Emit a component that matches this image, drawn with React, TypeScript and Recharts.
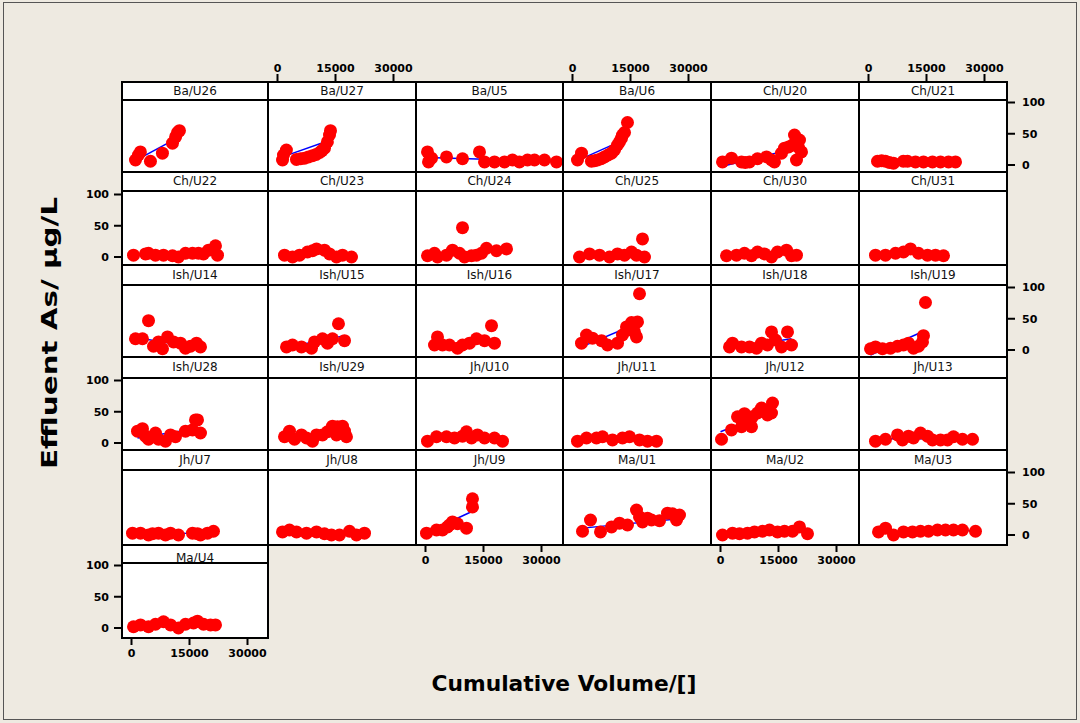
import React from "react";
import { ScatterChart, Scatter, XAxis, YAxis } from "recharts";

// Cumulative volume vs effluent As, one array per unit: [volume, As]
const baU26 = [[1030, 8], [1800, 16], [2300, 21], [4900, 6], [8000, 19], [10600, 35], [11400, 45], [11900, 52], [12400, 55]];
const baU27 = [[1300, 8], [1550, 16], [2300, 24], [4900, 9], [6000, 10], [7000, 11], [8000, 13], [9050, 15], [10000, 17], [10900, 20], [11500, 23], [12150, 27], [12900, 37], [13450, 48], [13700, 55]];
const baU5 = [[520, 21], [780, 5], [1550, 11], [5430, 13], [9570, 10], [13960, 21], [15260, 5], [17840, 5], [20430, 5], [22500, 8], [24300, 5], [26380, 8], [28190, 8], [30770, 8], [33880, 5]];
const baU6 = [[1290, 8], [2330, 19], [4900, 6], [5700, 7], [6470, 8], [7400, 10], [8280, 13], [9200, 16], [10090, 19], [10860, 24], [11640, 32], [12150, 37], [12670, 43], [12930, 48], [13450, 52], [14220, 68]];
const chU20 = [[520, 5], [2840, 11], [5430, 5], [6400, 4], [7500, 5], [9570, 10], [11900, 13], [13200, 8], [13960, 5], [15770, 19], [16550, 27], [17600, 29], [18620, 32], [19140, 48], [19650, 8], [20200, 28], [20430, 40], [20950, 21]];
const chU21 = [[2330, 6], [3400, 7], [4400, 6], [5400, 4], [6470, 3], [9000, 6], [10090, 6], [12150, 5], [14220, 5], [16550, 5], [18620, 5], [20690, 5], [22500, 5]];
const chU22 = [[520, 3], [3620, 5], [4400, 6], [6200, 3], [8280, 3], [10600, 2], [12150, 0], [13960, 6], [15770, 6], [17330, 6], [18620, 5], [19910, 11], [21720, 18], [22240, 3]];
const chU23 = [[1810, 3], [3880, 0], [5690, 3], [7760, 8], [9050, 10], [10090, 13], [12150, 11], [13450, 5], [15260, 0], [16810, 3], [19140, 0]];
const chU24 = [[520, 2], [2330, 6], [3100, 0], [5430, 3], [6980, 11], [8790, 6], [9570, 47], [10090, 0], [11900, 2], [13190, 3], [14480, 6], [15770, 14], [18360, 10], [20950, 13]];
const chU25 = [[1810, 0], [4400, 5], [6980, 3], [9570, 0], [11640, 5], [13450, 3], [15260, 8], [16550, 3], [18100, 29], [18620, 0]];
const chU30 = [[1550, 2], [4140, 3], [6200, 6], [8020, 2], [9570, 8], [11380, 5], [13190, 0], [14740, 8], [17070, 11], [18360, 2], [19650, 3]];
const chU31 = [[1810, 3], [4400, 3], [6980, 6], [9050, 8], [10860, 13], [12930, 6], [15260, 3], [17330, 3], [19400, 2]];
const ishU14 = [[1030, 18], [2840, 18], [4400, 47], [5690, 6], [6980, 13], [8020, 2], [9310, 21], [10860, 13], [12670, 11], [13960, 3], [15260, 6], [16810, 11], [17840, 5]];
const ishU15 = [[2330, 5], [3880, 8], [6200, 5], [8790, 3], [9570, 13], [11640, 18], [12930, 11], [14220, 18], [15770, 42], [17330, 15]];
const ishU16 = [[2330, 8], [3100, 21], [4400, 8], [6200, 8], [8280, 3], [9570, 8], [11380, 11], [13190, 18], [15260, 15], [17070, 39], [17840, 11]];
const ishU17 = [[2330, 11], [3620, 24], [5170, 19], [7500, 15], [9050, 8], [11640, 11], [12930, 24], [13960, 37], [14220, 32], [15260, 44], [16030, 29], [16550, 21], [16810, 45], [17330, 90]];
const ishU18 = [[2330, 5], [3100, 11], [5430, 5], [7500, 5], [9310, 3], [10600, 11], [12150, 8], [13190, 29], [14220, 16], [15770, 5], [17330, 29], [18360, 8]];
const ishU19 = [[520, 2], [1810, 5], [3620, 2], [5690, 3], [7500, 6], [9050, 8], [10340, 11], [11640, 3], [12930, 6], [13960, 13], [14220, 23], [14740, 76]];
const ishU28 = [[1550, 19], [2840, 23], [3620, 11], [4400, 6], [6200, 16], [6980, 6], [8790, 3], [10090, 13], [11380, 10], [13960, 19], [15770, 21], [16550, 37], [17070, 37], [17840, 16]];
const ishU29 = [[1810, 10], [3100, 19], [4400, 6], [6200, 13], [7500, 8], [9050, 3], [10090, 13], [11640, 13], [12930, 18], [14220, 27], [15260, 13], [15520, 26], [16810, 27], [17330, 19], [17840, 10]];
const jhU10 = [[520, 3], [2840, 10], [5430, 10], [7500, 8], [9570, 11], [10600, 18], [11900, 8], [13450, 13], [15260, 8], [17840, 8], [19910, 3]];
const jhU11 = [[1290, 3], [3620, 8], [6200, 8], [7760, 10], [10340, 5], [12930, 8], [14740, 10], [17330, 5], [19400, 3], [21720, 3]];
const jhU12 = [[260, 6], [2840, 21], [4400, 42], [5430, 26], [5690, 34], [6200, 47], [8020, 26], [8280, 42], [9570, 48], [10600, 56], [11380, 53], [12150, 45], [13190, 48], [13450, 64]];
const jhU13 = [[1810, 3], [4400, 6], [7500, 13], [8790, 5], [10340, 11], [11640, 8], [13450, 16], [15260, 11], [16550, 5], [18620, 5], [20430, 5], [21980, 10], [24300, 6], [26900, 6]];
const jhU7 = [[260, 3], [2330, 3], [4400, 0], [5430, 2], [6980, 3], [8790, 0], [10090, 3], [12150, 0], [15770, 3], [17070, 2], [17840, 0], [19650, 3], [21200, 6]];
const jhU8 = [[1290, 5], [3100, 8], [4910, 5], [7500, 3], [10090, 5], [12150, 2], [13960, 0], [16030, 0], [18620, 6], [20430, 0], [22500, 3]];
const jhU9 = [[260, 3], [2840, 8], [4400, 8], [5690, 13], [6200, 16], [6980, 21], [8280, 18], [10600, 11], [12150, 45], [12150, 58]];
const maU1 = [[2590, 6], [4650, 24], [7240, 5], [10090, 13], [12150, 19], [14220, 16], [16550, 40], [17330, 29], [18100, 21], [19400, 27], [20430, 24], [22500, 23], [24570, 35], [25860, 34], [26900, 24], [27670, 32]];
const maU2 = [[520, 0], [3100, 3], [4910, 2], [6980, 3], [8790, 5], [10860, 6], [12670, 8], [14740, 5], [16550, 6], [18620, 6], [20430, 13], [22500, 2]];
const maU3 = [[2590, 5], [4400, 11], [6470, 0], [9050, 5], [11380, 5], [13450, 6], [15520, 6], [17840, 8], [19910, 8], [21980, 8], [24300, 8], [27670, 6]];
const maU4 = [[520, 2], [2330, 5], [4400, 2], [6200, 6], [8280, 10], [10090, 5], [12150, 0], [13960, 6], [16030, 8], [17070, 11], [18620, 6], [20430, 5], [21720, 5]];

// fitted line ends: [x0, y0, x1, y1]
const baU26Fit = [1000, 7, 12400, 45];
const baU27Fit = [1300, 13, 13700, 40];
const baU5Fit = [520, 12, 33880, 6];
const baU6Fit = [1290, 7, 14220, 43];
const chU20Fit = [520, -2, 20950, 29];
const chU21Fit = [2330, 6, 22500, 4];
const chU22Fit = [520, 2, 22240, 9];
const chU23Fit = [1810, 6, 19140, 5];
const chU24Fit = [520, 3, 20950, 11];
const chU25Fit = [1810, 2, 18620, 8];
const chU30Fit = [1550, 2, 19650, 8];
const chU31Fit = [1810, 5, 19400, 5];
const ishU14Fit = [1030, 20, 17840, 3];
const ishU15Fit = [2330, 4, 17330, 23];
const ishU16Fit = [2330, 6, 17840, 14];
const ishU17Fit = [2330, 5, 17330, 44];
const ishU18Fit = [2330, 3, 18360, 18];
const ishU19Fit = [520, -8, 14220, 30];
const ishU28Fit = [1550, 8, 17840, 24];
const ishU29Fit = [1810, 8, 17840, 22];
const jhU10Fit = [520, 7, 19910, 9];
const jhU11Fit = [1290, 7, 21720, 5];
const jhU12Fit = [0, 18, 13450, 51];
const jhU13Fit = [1810, 7, 26900, 7];
const jhU7Fit = [260, 2, 21200, 3];
const jhU8Fit = [1290, 5, 22500, 1];
const jhU9Fit = [260, 4, 12150, 38];
const maU1Fit = [2590, 11, 27670, 26];
const maU2Fit = [520, 1, 22500, 8];
const maU3Fit = [2590, 5, 27670, 7];
const maU4Fit = [520, 3, 21720, 7];

const X_TICKS = [0, 15000, 30000];
const Y_TICKS = [0, 50, 100];
const BOTTOM_AXIS = ["Jh/U9", "Ma/U2", "Ma/U4"];

const panels = [
  { name: "Ba/U26", pts: baU26, fit: baU26Fit },
  { name: "Ba/U27", pts: baU27, fit: baU27Fit },
  { name: "Ba/U5", pts: baU5, fit: baU5Fit },
  { name: "Ba/U6", pts: baU6, fit: baU6Fit },
  { name: "Ch/U20", pts: chU20, fit: chU20Fit },
  { name: "Ch/U21", pts: chU21, fit: chU21Fit },
  { name: "Ch/U22", pts: chU22, fit: chU22Fit },
  { name: "Ch/U23", pts: chU23, fit: chU23Fit },
  { name: "Ch/U24", pts: chU24, fit: chU24Fit },
  { name: "Ch/U25", pts: chU25, fit: chU25Fit },
  { name: "Ch/U30", pts: chU30, fit: chU30Fit },
  { name: "Ch/U31", pts: chU31, fit: chU31Fit },
  { name: "Ish/U14", pts: ishU14, fit: ishU14Fit },
  { name: "Ish/U15", pts: ishU15, fit: ishU15Fit },
  { name: "Ish/U16", pts: ishU16, fit: ishU16Fit },
  { name: "Ish/U17", pts: ishU17, fit: ishU17Fit },
  { name: "Ish/U18", pts: ishU18, fit: ishU18Fit },
  { name: "Ish/U19", pts: ishU19, fit: ishU19Fit },
  { name: "Ish/U28", pts: ishU28, fit: ishU28Fit },
  { name: "Ish/U29", pts: ishU29, fit: ishU29Fit },
  { name: "Jh/U10", pts: jhU10, fit: jhU10Fit },
  { name: "Jh/U11", pts: jhU11, fit: jhU11Fit },
  { name: "Jh/U12", pts: jhU12, fit: jhU12Fit },
  { name: "Jh/U13", pts: jhU13, fit: jhU13Fit },
  { name: "Jh/U7", pts: jhU7, fit: jhU7Fit },
  { name: "Jh/U8", pts: jhU8, fit: jhU8Fit },
  { name: "Jh/U9", pts: jhU9, fit: jhU9Fit },
  { name: "Ma/U1", pts: maU1, fit: maU1Fit },
  { name: "Ma/U2", pts: maU2, fit: maU2Fit },
  { name: "Ma/U3", pts: maU3, fit: maU3Fit },
  { name: "Ma/U4", pts: maU4, fit: maU4Fit },
];

// layout of the trellis (pixels)
const COL_L = [122, 268, 416, 563, 711, 859, 1007];
const STRIP_T = [82, 172, 265, 357, 450, 545];
const PLOT_T = [100, 191, 285, 378, 470, 563];
const PLOT_B = [172, 265, 357, 450, 545, 638];
const ZERO_Y = [165, 257, 350, 443, 535, 628];
const PX_PER_X = 58 / 15000;
const PX_PER_Y = 62.5 / 100;
const X_ZERO_OFF = 9.5;
const PAD = 12;
const FONT = "'DejaVu Sans', sans-serif";
const BG = "#EEEAE1";

const tickStyle = { fill: "#000", fontSize: 11, fontWeight: 700, fontFamily: FONT };
const tickLine = { stroke: "#000", strokeWidth: 2 };
const noMargin = { top: 0, right: 0, bottom: 0, left: 0 };
const padMargin = { top: PAD, right: 0, bottom: PAD, left: 0 };

const Dot = (props: any) => <circle cx={props.cx} cy={props.cy} r={6.5} fill="#FF0000" />;
const NoDot = () => <g />;

function Panel({ def, idx }: { def: any; idx: number }) {
  const row = Math.floor(idx / 6);
  const col = idx % 6;
  const x0 = COL_L[col];
  const w = COL_L[col + 1] - x0;
  const st = STRIP_T[row];
  const pt = PLOT_T[row];
  const pb = PLOT_B[row];
  const zy = ZERO_Y[row];
  const h = pb - pt;
  const xDomain = [-X_ZERO_OFF / PX_PER_X, (w - X_ZERO_OFF) / PX_PER_X];
  const yDomain = [-(pb - zy) / PX_PER_Y, (zy - pt) / PX_PER_Y];
  const left = col === 0 && row % 2 === 1;
  const right = col === 5 && row % 2 === 0;
  const top = row === 0 && col % 2 === 1;
  const bottom = BOTTOM_AXIS.includes(def.name);
  const LW = 50;
  const BH = 30;
  const TH = 30;
  const pts = def.pts.map(([x, y]: number[]) => ({ x, y }));
  const fit = [
    { x: def.fit[0], y: def.fit[1] },
    { x: def.fit[2], y: def.fit[3] },
  ];

  return (
    <>
      <div style={{ position: "absolute", left: x0, top: st, width: w, height: pb - st, background: "#fff" }} />
      {top && (
        <div style={{ position: "absolute", left: x0, top: st - TH }}>
          <ScatterChart width={w} height={TH + pt - st} margin={noMargin}>
            <XAxis
              type="number"
              dataKey="x"
              domain={xDomain}
              ticks={X_TICKS}
              orientation="top"
              height={TH}
              tickSize={8}
              tickMargin={2}
              axisLine={false}
              tickLine={tickLine}
              tick={tickStyle}
              interval={0}
              allowDataOverflow
            />
            <YAxis type="number" dataKey="y" domain={[0, 1]} hide />
            <Scatter data={[]} isAnimationActive={false} />
          </ScatterChart>
        </div>
      )}
      <div
        style={{
          position: "absolute",
          left: x0,
          top: st,
          width: w,
          height: pt - st,
          lineHeight: `${pt - st}px`,
          textAlign: "center",
          fontFamily: FONT,
          fontSize: 12,
          color: "#111",
          paddingTop: def.name === "Ma/U4" ? 4 : 0,
          boxSizing: "border-box",
          whiteSpace: "nowrap",
        }}
      >
        {def.name}
      </div>
      <div style={{ position: "absolute", left: x0 - (left ? LW : 0), top: pt - PAD }}>
        <ScatterChart
          width={w + (left ? LW : 0) + (right ? LW : 0)}
          height={h + 2 * PAD + (bottom ? BH : 0)}
          margin={padMargin}
        >
          <XAxis
            type="number"
            dataKey="x"
            domain={xDomain}
            ticks={X_TICKS}
            hide={!bottom}
            orientation="bottom"
            height={BH}
            tickSize={7}
            tickMargin={4}
            axisLine={false}
            tickLine={tickLine}
            tick={tickStyle}
            interval={0}
            allowDataOverflow
          />
          <YAxis
            type="number"
            dataKey="y"
            domain={yDomain}
            ticks={Y_TICKS}
            hide={!(left || right)}
            orientation={right ? "right" : "left"}
            width={LW}
            tickSize={8}
            tickMargin={right ? 7 : 5}
            axisLine={false}
            tickLine={tickLine}
            tick={tickStyle}
            interval={0}
            allowDataOverflow
          />
          <Scatter
            data={fit}
            line={{ stroke: "#0000FF", strokeWidth: 1.5 }}
            shape={NoDot}
            isAnimationActive={false}
          />
          <Scatter data={pts} shape={Dot} isAnimationActive={false} />
        </ScatterChart>
      </div>
      <div
        style={{
          position: "absolute",
          left: x0 - 1,
          top: st - 1,
          width: w + 2,
          height: pb - st + 2,
          border: "2px solid #000",
          boxSizing: "border-box",
        }}
      />
      <div style={{ position: "absolute", left: x0, top: pt - 1, width: w, height: 2, background: "#000" }} />
    </>
  );
}

export default function App() {
  return (
    <div
      style={{
        position: "absolute",
        left: 0,
        top: 0,
        width: 1080,
        height: 723,
        background: BG,
        overflow: "hidden",
      }}
    >
      <div
        style={{
          position: "absolute",
          left: 3,
          top: 2,
          width: 1074,
          height: 718,
          border: "1px solid #555",
          boxSizing: "border-box",
        }}
      />
      {panels.map((p, i) => (
        <Panel key={p.name} def={p} idx={i} />
      ))}
      <svg width={1080} height={723} style={{ position: "absolute", left: 0, top: 0, pointerEvents: "none" }}>
        <text
          x={564}
          y={691}
          textAnchor="middle"
          fontFamily={FONT}
          fontWeight={700}
          fontSize={22}
          textLength={265}
          lengthAdjust="spacingAndGlyphs"
          fill="#000"
        >
          Cumulative Volume/[]
        </text>
        <text
          x={0}
          y={0}
          transform="translate(57 333) rotate(-90)"
          textAnchor="middle"
          fontFamily={FONT}
          fontWeight={700}
          fontSize={22}
          textLength={272}
          lengthAdjust="spacingAndGlyphs"
          fill="#000"
        >
          Effluent As/ µg/L
        </text>
      </svg>
    </div>
  );
}
